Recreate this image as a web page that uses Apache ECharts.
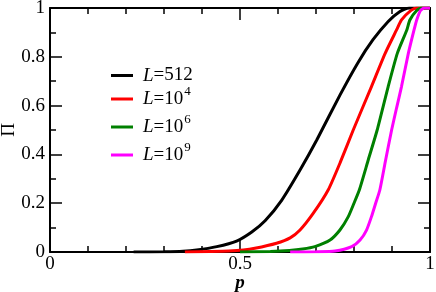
<!DOCTYPE html>
<html><head><meta charset="utf-8">
<script src="https://cdn.jsdelivr.net/npm/echarts@6/dist/echarts.min.js"></script>
<style>html,body{margin:0;padding:0;background:#fff}#c{width:436px;height:292px}</style>
</head><body><div id="c"></div>
<script>
const seriesNames = ['L=512', 'L=10^4', 'L=10^6', 'L=10^9'];
const seriesColors = ['#000000', '#ff0000', '#008000', '#ff00ff'];
const xTicks = [0, 0.5, 1];
const yTicks = [0, 0.2, 0.4, 0.6, 0.8, 1];

const p512  = [0.22, 0.30, 0.35, 0.386, 0.439, 0.491, 0.531, 0.566, 0.61, 0.658, 0.702, 0.763, 0.81, 0.85, 0.89, 0.92, 0.945, 1.0];
const pi512 = [0, 0.001, 0.003, 0.008, 0.022, 0.045, 0.082, 0.128, 0.213, 0.336, 0.459, 0.643, 0.775, 0.87, 0.945, 0.985, 1.0, 1.0];
const p1e4  = [0.355, 0.42, 0.47, 0.509, 0.539, 0.596, 0.632, 0.658, 0.693, 0.732, 0.763, 0.798, 0.846, 0.882, 0.912, 0.925, 0.95, 0.965, 1.0];
const pi1e4 = [0, 0.002, 0.004, 0.008, 0.015, 0.036, 0.058, 0.09, 0.159, 0.254, 0.364, 0.5, 0.678, 0.814, 0.91, 0.951, 0.99, 1.0, 1.0];
const p1e6  = [0.5, 0.58, 0.63, 0.665, 0.697, 0.737, 0.763, 0.785, 0.8, 0.814, 0.838, 0.861, 0.89, 0.914, 0.939, 0.947, 0.965, 0.978, 1.0];
const pi1e6 = [0, 0.002, 0.006, 0.012, 0.022, 0.049, 0.09, 0.145, 0.2, 0.254, 0.38, 0.5, 0.678, 0.814, 0.91, 0.951, 0.99, 1.0, 1.0];
const p1e9  = [0.632, 0.7, 0.75, 0.794, 0.816, 0.833, 0.846, 0.857, 0.868, 0.883, 0.899, 0.912, 0.925, 0.943, 0.958, 0.965, 0.975, 0.985, 1.0];
const pi1e9 = [0, 0.001, 0.004, 0.022, 0.049, 0.09, 0.145, 0.2, 0.254, 0.375, 0.5, 0.59, 0.678, 0.814, 0.91, 0.951, 0.99, 1.0, 1.0];

const xs = [p512, p1e4, p1e6, p1e9];
const ys = [pi512, pi1e4, pi1e6, pi1e9];

const FONT = 'Liberation Serif';
const chart = echarts.init(document.getElementById('c'));

function legendFmt(name) {
  const m = name.match(/^L=(\d+)(?:\^(\d+))?$/);
  if (m[2]) return '{i|L}{n|=' + m[1] + '}{s|' + m[2] + '}';
  return '{i|L}{n|=' + m[1] + '}';
}

const frameAxis = {
  axisLine: { show: true, onZero: false, lineStyle: { color: '#000', width: 2 } },
  axisTick: { show: true, inside: true, length: 12, lineStyle: { color: '#000', width: 1.5 } },
  minorTick: { show: true, length: 6, lineStyle: { color: '#000', width: 1.5 } },
  splitLine: { show: false },
  minorSplitLine: { show: false }
};

chart.setOption({
  animation: false,
  backgroundColor: '#fff',
  grid: { left: 50, right: 6, top: 8, bottom: 40, containLabel: false, outerBoundsMode: 'none' },
  legend: {
    orient: 'vertical', left: 111, top: 66, padding: 0, itemGap: 0,
    itemWidth: 22, itemHeight: 3, icon: 'rect',
    data: seriesNames,
    formatter: legendFmt,
    textStyle: {
      fontFamily: FONT, fontSize: 19, color: '#000',
      rich: {
        i: { fontFamily: FONT, fontSize: 19, fontStyle: 'italic', color: '#000', padding: [0, 0, 0, 5] },
        n: { fontFamily: FONT, fontSize: 19, color: '#000' },
        s: { fontFamily: FONT, fontSize: 13, lineHeight: 13, color: '#000', padding: [0, 0, 15, 1] }
      }
    }
  },
  xAxis: [
    Object.assign({}, frameAxis, {
      type: 'value', min: xTicks[0], max: xTicks[xTicks.length - 1], interval: xTicks[1] - xTicks[0],
      minorTick: Object.assign({}, frameAxis.minorTick, { splitNumber: 5 }),
      name: 'p', nameLocation: 'middle', nameGap: 22, nameMoveOverlap: false,
      nameTextStyle: { fontFamily: FONT, fontSize: 19, fontStyle: 'italic', fontWeight: 'bold', color: '#000' },
      axisLabel: { fontFamily: FONT, fontSize: 19, color: '#000', margin: 3 }
    }),
    Object.assign({}, frameAxis, {
      type: 'value', position: 'top', min: 0, max: 1, interval: 0.5,
      minorTick: Object.assign({}, frameAxis.minorTick, { splitNumber: 5 }),
      axisLabel: { show: false }
    })
  ],
  yAxis: [
    Object.assign({}, frameAxis, {
      type: 'value', min: yTicks[0], max: yTicks[yTicks.length - 1], interval: yTicks[1] - yTicks[0],
      minorTick: Object.assign({}, frameAxis.minorTick, { splitNumber: 2 }),
      name: 'Π', nameLocation: 'middle', nameGap: 31, nameMoveOverlap: false,
      nameTextStyle: { fontFamily: FONT, fontSize: 19, color: '#000' },
      axisLabel: { fontFamily: FONT, fontSize: 19, color: '#000', margin: 5 }
    }),
    Object.assign({}, frameAxis, {
      type: 'value', position: 'right', min: 0, max: 1, interval: 0.2,
      minorTick: Object.assign({}, frameAxis.minorTick, { splitNumber: 2 }),
      axisLabel: { show: false }
    })
  ],
  series: seriesNames.map((n, k) => ({
    name: n, type: 'line', showSymbol: false, symbol: 'none', smooth: 0.2,
    xAxisIndex: 0, yAxisIndex: 0, z: 2,
    lineStyle: { color: seriesColors[k], width: 3 },
    itemStyle: { color: seriesColors[k] },
    data: xs[k].map((x, i) => [x, ys[k][i]])
  }))
});
</script></body></html>
